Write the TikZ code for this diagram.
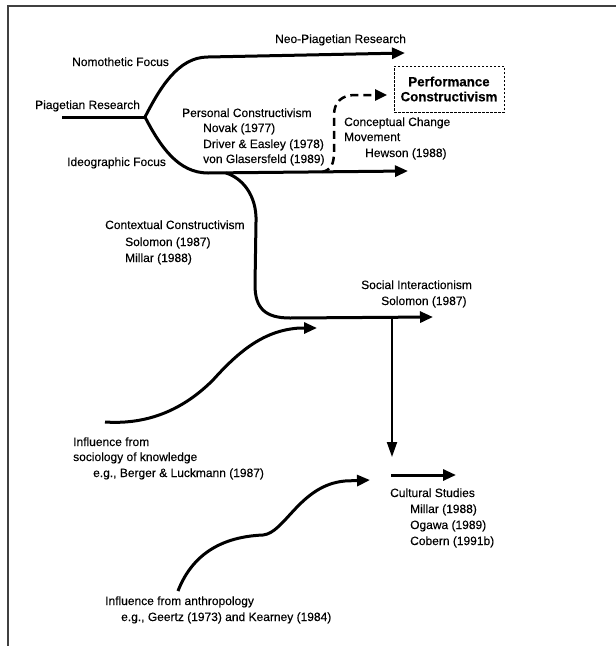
\documentclass[tikz,border=0pt]{standalone}
\usepackage{fontspec}
\setmainfont{Liberation Sans}[FakeBold=0.25]
\usetikzlibrary{arrows.meta}
\begin{document}
\begin{tikzpicture}[x=1pt,y=-1pt,
  lbl/.style={anchor=base west, inner sep=0pt, font=\fontsize{12}{16}\selectfont},
  flow/.style={line width=3pt, line join=round, -{Triangle[length=13pt,width=11pt]}},
  trunk/.style={line width=3pt, line join=round},
  thinflow/.style={line width=2pt, -{Triangle[length=15pt,width=10pt]}},
  dashflow/.style={line width=2.5pt, dash pattern=on 8pt off 5pt, -{Triangle[length=12pt,width=11pt]}},
  perfbox/.style={draw, line width=0.8pt, dash pattern=on 2.5pt off 1.5pt, minimum width=110pt, minimum height=46pt, inner sep=0pt, align=center, font=\bfseries\fontsize{13.3}{15}\selectfont}]
\useasboundingbox (0,0) rectangle (616,646);
\draw[line width=2pt, black!75] (616,6) -- (8,6) -- (8,646);

% coordinates
\coordinate (start) at (62,117);
\coordinate (J) at (145,117);
\coordinate (nomoEnd) at (405,53);
\coordinate (ideoEnd) at (408,171);
\coordinate (dashStart) at (322,172);
\coordinate (dashEnd) at (387,95);
\coordinate (ctxStart) at (226,173);
\coordinate (socEnd) at (433,317);
\coordinate (socDrop) at (392,318);
\coordinate (culTop) at (392,457);
\coordinate (socioStart) at (105,422);
\coordinate (socioEnd) at (317,328);
\coordinate (anthStart) at (178,591);
\coordinate (anthEnd) at (370,480);
\coordinate (culStart) at (391,475);
\coordinate (culEnd) at (456,475);

% box
\node[perfbox] (perf) at (449,89) {Performance\\Constructivism};

% labels
\node[lbl] (neo) at (275,43) {Neo-Piagetian Research};
\node[lbl] (nomo) at (72,66) {Nomothetic Focus};
\node[lbl] (piag) at (35,109) {Piagetian Research};
\node[lbl] (ideo) at (67,166) {Ideographic Focus};
\node[lbl] (pc1) at (182,117) {Personal Constructivism};
\node[lbl] (pc2) at (203,132) {Novak (1977)};
\node[lbl] (pc3) at (203,148) {Driver \& Easley (1978)};
\node[lbl] (pc4) at (203,163) {von Glasersfeld (1989)};
\node[lbl] (cc1) at (344,126) {Conceptual Change};
\node[lbl] (cc2) at (344,141) {Movement};
\node[lbl] (cc3) at (365,157) {Hewson (1988)};
\node[lbl] (ctx1) at (105,229) {Contextual Constructivism};
\node[lbl] (ctx2) at (125,246) {Solomon (1987)};
\node[lbl] (ctx3) at (125,262) {Millar (1988)};
\node[lbl] (si1) at (361,289) {Social Interactionism};
\node[lbl] (si2) at (381,305) {Solomon (1987)};
\node[lbl] (soc1) at (73,446) {Influence from};
\node[lbl] (soc2) at (73,461) {sociology of knowledge};
\node[lbl] (soc3) at (93,477) {e.g., Berger \& Luckmann (1987)};
\node[lbl] (cul1) at (390,497) {Cultural Studies};
\node[lbl] (cul2) at (410,513) {Millar (1988)};
\node[lbl] (cul3) at (410,529) {Ogawa (1989)};
\node[lbl] (cul4) at (410,545) {Cobern (1991b)};
\node[lbl] (ant1) at (105,605) {Influence from anthropology};
\node[lbl] (ant2) at (121,621) {e.g., Geertz (1973) and Kearney (1984)};

% connectors
\draw[trunk] (start) -- (J);
\draw[flow] (J) .. controls (160,88) and (178,57) .. (208,57) -- (nomoEnd);
\draw[flow] (J) .. controls (160,146) and (178,173) .. (208,173) -- (ideoEnd);
\draw[dashflow] (dashStart) .. controls (331,170) and (334,164) .. (334,152) -- (334,115) .. controls (334,102) and (342,95) .. (355,95) -- (dashEnd);
\draw[flow] (ctxStart) .. controls (242,178) and (257,195) .. (256,222) -- (255,285) .. controls (255,308) and (265,318) .. (290,318) -- (socEnd);
\draw[thinflow] (socDrop) -- (culTop);
\draw[flow] (socioStart) .. controls (150,425) and (185,408) .. (213,380) .. controls (240,350) and (265,330) .. (300,328) -- (socioEnd);
\draw[flow] (anthStart) .. controls (190,560) and (215,537) .. (263,535) .. controls (285,533) and (300,485) .. (345,481) -- (anthEnd);
\draw[flow] (culStart) -- (culEnd);
\end{tikzpicture}
\end{document}
